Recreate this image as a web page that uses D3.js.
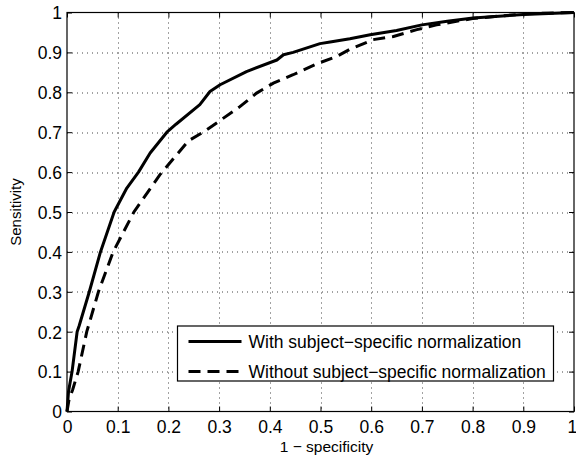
<!DOCTYPE html>
<html>
<head>
<meta charset="utf-8">
<script src="https://cdn.jsdelivr.net/npm/d3@7"></script>
<style>
  body { margin: 0; background: #fff; }
  svg { display: block; font-family: "Liberation Sans", Arial, Helvetica, sans-serif; }
</style>
</head>
<body>
<div id="chart"></div>
<script>
// ROC curve samples
const fprWith = [0, 0.003, 0.010, 0.020, 0.024, 0.044, 0.066, 0.093, 0.118, 0.141, 0.164, 0.197, 0.215,
  0.262, 0.282, 0.302, 0.354, 0.414, 0.427, 0.446, 0.499, 0.519, 0.558, 0.598, 0.650, 0.700, 0.750, 0.801, 0.900, 1];
const tprWith = [0, 0.05, 0.10, 0.20, 0.215, 0.30, 0.40, 0.50, 0.56, 0.60, 0.648, 0.70, 0.72,
  0.769, 0.802, 0.819, 0.852, 0.881, 0.894, 0.900, 0.922, 0.926, 0.934, 0.944, 0.955, 0.969, 0.978, 0.986, 0.995, 1];

const fprWithout = [0, 0.004, 0.011, 0.022, 0.039, 0.062, 0.091, 0.132, 0.183, 0.236, 0.243, 0.270,
  0.341, 0.374, 0.407, 0.446, 0.492, 0.532, 0.558, 0.604, 0.644, 0.690, 0.729, 0.800, 0.907, 1];
const tprWithout = [0, 0.03, 0.054, 0.10, 0.20, 0.30, 0.40, 0.50, 0.593, 0.673, 0.681, 0.701,
  0.764, 0.798, 0.823, 0.844, 0.871, 0.890, 0.908, 0.932, 0.940, 0.957, 0.969, 0.985, 0.997, 1];

const seriesNames = ['With subject\u2212specific normalization', 'Without subject\u2212specific normalization'];
const tickValues = [0, 0.1, 0.2, 0.3, 0.4, 0.5, 0.6, 0.7, 0.8, 0.9, 1];
const xLabel = '1 \u2212 specificity';
const yLabel = 'Sensitivity';

const width = 576, height = 458;
const margin = { top: 12.5, right: 2, bottom: 46.5, left: 67 };
const innerW = width - margin.left - margin.right;
const innerH = height - margin.top - margin.bottom;
const fontSize = 17.5;

const svg = d3.select('#chart').append('svg')
  .attr('width', width)
  .attr('height', height);

const chart = svg.append('g')
  .attr('transform', `translate(${margin.left},${margin.top})`);

const x = d3.scaleLinear().domain([0, 1]).range([0, innerW]);
const y = d3.scaleLinear().domain([0, 1]).range([innerH, 0]);

// dotted grid
chart.append('g').selectAll('line.vg')
  .data(tickValues.slice(1, -1))
  .join('line')
  .attr('x1', d => Math.round(x(d)) + 0.5).attr('x2', d => Math.round(x(d)) + 0.5)
  .attr('y1', 0).attr('y2', innerH)
  .attr('stroke', '#444').attr('stroke-width', 1).attr('stroke-dasharray', '1,4');
chart.append('g').selectAll('line.hg')
  .data(tickValues.slice(1, -1))
  .join('line')
  .attr('y1', d => Math.round(y(d)) + 0.5).attr('y2', d => Math.round(y(d)) + 0.5)
  .attr('x1', 0).attr('x2', innerW)
  .attr('stroke', '#444').attr('stroke-width', 1).attr('stroke-dasharray', '1,4');

// axes: ticks point inward
const fmt = d => d === 0 || d === 1 ? String(d) : d3.format('.1f')(d);
const xAxis = chart.append('g')
  .attr('transform', `translate(0,${innerH})`)
  .call(d3.axisBottom(x).tickValues(tickValues).tickFormat(fmt).tickSizeInner(-5).tickSizeOuter(0).tickPadding(9));
const yAxis = chart.append('g')
  .call(d3.axisLeft(y).tickValues(tickValues).tickFormat(fmt).tickSizeInner(-5).tickSizeOuter(0).tickPadding(5));
chart.append('g')
  .call(d3.axisTop(x).tickValues(tickValues).tickFormat('').tickSizeInner(-5).tickSizeOuter(0));
chart.append('g')
  .attr('transform', `translate(${innerW},0)`)
  .call(d3.axisRight(y).tickValues(tickValues).tickFormat('').tickSizeInner(-5).tickSizeOuter(0));

chart.selectAll('.domain').remove();
chart.selectAll('.tick line').attr('stroke', '#000');
[xAxis, yAxis].forEach(a => a.selectAll('text')
  .attr('font-size', fontSize).attr('fill', '#000')
  .attr('font-family', '"Liberation Sans", Arial, Helvetica, sans-serif'));
yAxis.selectAll('text').attr('dy', '0.36em');
// keep the last x label inside the page
xAxis.selectAll('.tick text').filter(d => d === 1).attr('text-anchor', 'end').attr('dx', '0.15em');

// frame
chart.append('rect')
  .attr('x', 0).attr('y', 0)
  .attr('width', innerW).attr('height', innerH)
  .attr('fill', 'none').attr('stroke', '#000').attr('stroke-width', 1.2);

// curves
const line = d3.line().x(d => x(d[0])).y(d => y(d[1]));
const withPts = d3.zip(fprWith, tprWith);
const withoutPts = d3.zip(fprWithout, tprWithout);

chart.append('path')
  .datum(withoutPts)
  .attr('d', line)
  .attr('fill', 'none').attr('stroke', '#000').attr('stroke-width', 3)
  .attr('stroke-dasharray', '12,7');
chart.append('path')
  .datum(withPts)
  .attr('d', line)
  .attr('fill', 'none').attr('stroke', '#000').attr('stroke-width', 3)
  .attr('stroke-linejoin', 'round');

// legend
const legend = svg.append('g').attr('transform', 'translate(177.5,326)');
legend.append('rect')
  .attr('width', 376).attr('height', 55)
  .attr('fill', '#fff').attr('stroke', '#000').attr('stroke-width', 1.2);
seriesNames.forEach((name, i) => {
  const ly = 15.5 + i * 30;
  legend.append('line')
    .attr('x1', 11).attr('x2', 64).attr('y1', ly).attr('y2', ly)
    .attr('stroke', '#000').attr('stroke-width', 3)
    .attr('stroke-dasharray', i === 1 ? '12,7' : null);
  legend.append('text')
    .attr('x', 71).attr('y', ly + 6)
    .attr('font-size', fontSize)
    .text(name);
});

// axis labels
svg.append('text')
  .attr('x', margin.left + innerW / 2 + 6).attr('y', 452)
  .attr('text-anchor', 'middle').attr('font-size', 15.5)
  .text(xLabel);
svg.append('text')
  .attr('transform', `translate(21,${margin.top + innerH / 2}) rotate(-90)`)
  .attr('text-anchor', 'middle').attr('font-size', 15)
  .text(yLabel);
</script>
</body>
</html>
